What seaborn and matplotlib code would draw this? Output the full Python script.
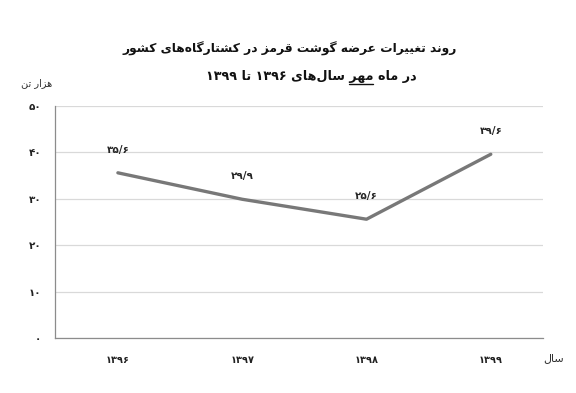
import re
import matplotlib
matplotlib.use("Agg")
import matplotlib.pyplot as plt
import seaborn as sns
from matplotlib.lines import Line2D

# ---------------- data ----------------
years = [1396, 1397, 1398, 1399]
supply = [35.6, 29.9, 25.6, 39.6]
y_ticks = [0, 10, 20, 30, 40, 50]
title_line1 = "روند تغییرات عرضه گوشت قرمز در کشتارگاه‌های کشور"
title_line2_pre = "در ماه "
title_line2_word = "مهر"
title_line2_post = " سال‌های ۱۳۹۶ تا ۱۳۹۹"
y_unit = "هزار تن"
x_title = "سال"

# ---------------- Persian shaping helpers ----------------
FORMS = {
    '\u0627': ('\uFE8D', '\uFE8E', None, None),
    '\u062F': ('\uFEA9', '\uFEAA', None, None),
    '\u0630': ('\uFEAB', '\uFEAC', None, None),
    '\u0631': ('\uFEAD', '\uFEAE', None, None),
    '\u0632': ('\uFEAF', '\uFEB0', None, None),
    '\u0648': ('\uFEED', '\uFEEE', None, None),
    '\u0628': ('\uFE8F', '\uFE90', '\uFE91', '\uFE92'),
    '\u062A': ('\uFE95', '\uFE96', '\uFE97', '\uFE98'),
    '\u0633': ('\uFEB1', '\uFEB2', '\uFEB3', '\uFEB4'),
    '\u0634': ('\uFEB5', '\uFEB6', '\uFEB7', '\uFEB8'),
    '\u0636': ('\uFEBD', '\uFEBE', '\uFEBF', '\uFEC0'),
    '\u0639': ('\uFEC9', '\uFECA', '\uFECB', '\uFECC'),
    '\u063A': ('\uFECD', '\uFECE', '\uFECF', '\uFED0'),
    '\u0642': ('\uFED5', '\uFED6', '\uFED7', '\uFED8'),
    '\u0644': ('\uFEDD', '\uFEDE', '\uFEDF', '\uFEE0'),
    '\u0645': ('\uFEE1', '\uFEE2', '\uFEE3', '\uFEE4'),
    '\u0646': ('\uFEE5', '\uFEE6', '\uFEE7', '\uFEE8'),
    '\u0647': ('\uFEE9', '\uFEEA', '\uFEEB', '\uFEEC'),
    '\u06CC': ('\uFBFC', '\uFBFD', '\uFBFE', '\uFBFF'),
    '\u06A9': ('\uFB8E', '\uFB8F', '\uFB90', '\uFB91'),
    '\u06AF': ('\uFB92', '\uFB93', '\uFB94', '\uFB95'),
}


def shape(s):
    out = []
    for i, c in enumerate(s):
        if c not in FORMS:
            out.append(c)
            continue
        prev = s[i - 1] if i > 0 else None
        nxt = s[i + 1] if i + 1 < len(s) else None
        jp = prev in FORMS and FORMS[prev][2] is not None
        jn = FORMS[c][2] is not None and nxt in FORMS
        f = FORMS[c]
        if jp and jn:
            g = f[3]
        elif jp:
            g = f[1]
        elif jn:
            g = f[2]
        else:
            g = f[0]
        out.append(g)
    s2 = ''.join(out).replace('\u200c', '')
    rev = s2[::-1]
    rev = re.sub(r'[\u06F0-\u06F90-9/]+', lambda m: m.group(0)[::-1], rev)
    return rev


def fa_digits(s):
    return s.translate(str.maketrans('0123456789', '۰۱۲۳۴۵۶۷۸۹'))


# ---------------- figure ----------------
sns.set_theme(style="white")
plt.rcParams['font.family'] = ['DejaVu Sans']

W, H = 576, 393
fig = plt.figure(figsize=(W / 100, H / 100), dpi=100)
ax = fig.add_axes([55 / W, 1 - 338 / H, (543 - 55) / W, (338 - 106) / H])

sns.lineplot(x=years, y=supply, color='#787878', linewidth=2.4, ax=ax)

ax.set_xlim(years[0] - 0.506, years[-1] + 0.42)
ax.set_ylim(y_ticks[0], y_ticks[-1])
ax.set_yticks(y_ticks)
ax.set_yticklabels([fa_digits(str(t)) for t in y_ticks], fontsize=7.5, fontweight='bold')
ax.set_xticks(years)
ax.set_xticklabels([fa_digits(str(y)) for y in years], fontsize=7, fontweight='bold')
ax.yaxis.grid(True, color='#d9d9d9', linewidth=0.9)
ax.xaxis.grid(False)
for side in ['top', 'right']:
    ax.spines[side].set_visible(False)
for side in ['left', 'bottom']:
    ax.spines[side].set_color('#8c8c8c')
    ax.spines[side].set_linewidth(0.9)
ax.tick_params(axis='y', length=0, pad=10, labelcolor='#222222')
ax.tick_params(axis='x', length=3, color='#8c8c8c', direction='out', pad=9, labelcolor='#222222')
ax.set_xlabel('')
ax.set_ylabel('')

for x, v in zip(years, supply):
    ax.annotate(fa_digits(f"{v:.1f}".replace('.', '/')), (x, v), xytext=(0, 13),
                textcoords='offset points', ha='center', va='bottom',
                fontsize=7.5, fontweight='bold', color='#262626')

# axis titles
fig.text(52 / W, 1 - 83 / H, shape(y_unit), ha='right', va='center', fontsize=7, color='#333333')
fig.text(543 / W, 1 - 358 / H, shape(x_title), ha='left', va='center', fontsize=8, color='#333333')

# title
fig.text(290 / W, 1 - 53 / H, shape(title_line1), ha='center', va='baseline',
         fontsize=8.8, fontweight='bold', color='#111111')

T2 = 9.2
full2 = title_line2_pre + title_line2_word + title_line2_post
vis_full = shape(full2)
t2 = fig.text(311 / W, 1 - 80 / H, vis_full, ha='center', va='baseline',
              fontsize=T2, fontweight='bold', color='#111111')

renderer = fig.canvas.get_renderer()
bb_full = t2.get_window_extent(renderer)
vis_word = shape(title_line2_word)
idx = vis_full.find(vis_word)
left_part = vis_full[:idx]
tmp = fig.text(0, 0, left_part + '|', fontsize=T2, fontweight='bold')
tmp_bar = fig.text(0, 0, '|', fontsize=T2, fontweight='bold')
w_left = tmp.get_window_extent(renderer).width - tmp_bar.get_window_extent(renderer).width
tmpw = fig.text(0, 0, vis_word, fontsize=T2, fontweight='bold')
w_word = tmpw.get_window_extent(renderer).width
for t in (tmp, tmp_bar, tmpw):
    t.remove()
x0 = bb_full.x0 + w_left
x1 = x0 + w_word
yline = (1 - 84 / H) * H
fig.add_artist(Line2D([x0 / W, x1 / W], [yline / H, yline / H], color='#111111',
                      linewidth=1.0, transform=fig.transFigure))

fig.savefig('out.png', dpi=100)
